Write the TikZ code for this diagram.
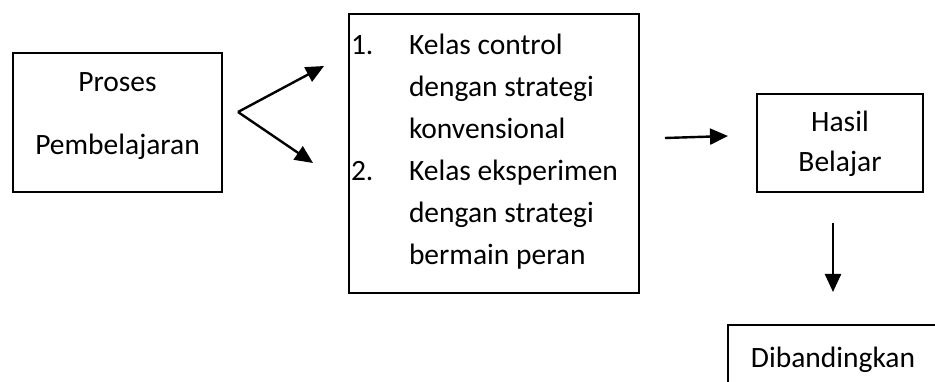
\documentclass[tikz,border=0pt]{standalone}
\usepackage{fontspec}
\setmainfont{Carlito}
\usetikzlibrary{arrows.meta}
\begin{document}
\begin{tikzpicture}[x=1pt,y=-1pt,
  box/.style={draw,line width=1.8pt,inner sep=0pt,outer sep=0pt,anchor=north west},
  txt/.style={inner sep=0pt,outer sep=0pt,font=\fontsize{29.5}{35}\selectfont},
  arr/.style={line width=2.4pt,-{Triangle[length=18pt,width=16pt]}}]
\useasboundingbox (0,0) rectangle (935,382);
\clip (0,0) rectangle (935,382);
% boxes
\node[box,minimum width=209pt,minimum height=139pt] (b1) at (13,53) {};
\node[box,minimum width=290pt,minimum height=279pt] (b2) at (349,14) {};
\node[box,minimum width=166pt,minimum height=98pt] (b3) at (757,94) {};
\node[box,minimum width=260pt,minimum height=120pt] (b4) at (728,325) {};
% texts
\node[txt,anchor=base] (p1) at (117.5,92) {Proses};
\node[txt,anchor=base] (p2) at (117.5,155) {Pembelajaran};
\node[txt,anchor=base west] (n1) at (351,55) {1.};
\node[txt,anchor=base west] (k1) at (409,55) {Kelas control};
\node[txt,anchor=base west] (k2) at (409,97) {dengan strategi};
\node[txt,anchor=base west] (k3) at (409,139) {konvensional};
\node[txt,anchor=base west] (n2) at (351,181) {2.};
\node[txt,anchor=base west] (k4) at (409,181) {Kelas eksperimen};
\node[txt,anchor=base west] (k5) at (409,223) {dengan strategi};
\node[txt,anchor=base west] (k6) at (409,265) {bermain peran};
\node[txt,anchor=base] (h1) at (840,132) {Hasil};
\node[txt,anchor=base] (h2) at (840,172) {Belajar};
\node[txt,anchor=base] (d1) at (833,367) {Dibandingkan};
% connectors
\coordinate (v) at (238,112);
\coordinate (t1) at (324,66);
\coordinate (t2) at (313,163);
\coordinate (a1) at (665,138);
\coordinate (a2) at (728,136);
\coordinate (c1) at (833,223);
\coordinate (c2) at (833,292);
\draw[arr] (v) -- (t1);
\draw[arr] (v) -- (t2);
\draw[arr] (a1) -- (a2);
\draw[arr] (c1) -- (c2);
\end{tikzpicture}
\end{document}
